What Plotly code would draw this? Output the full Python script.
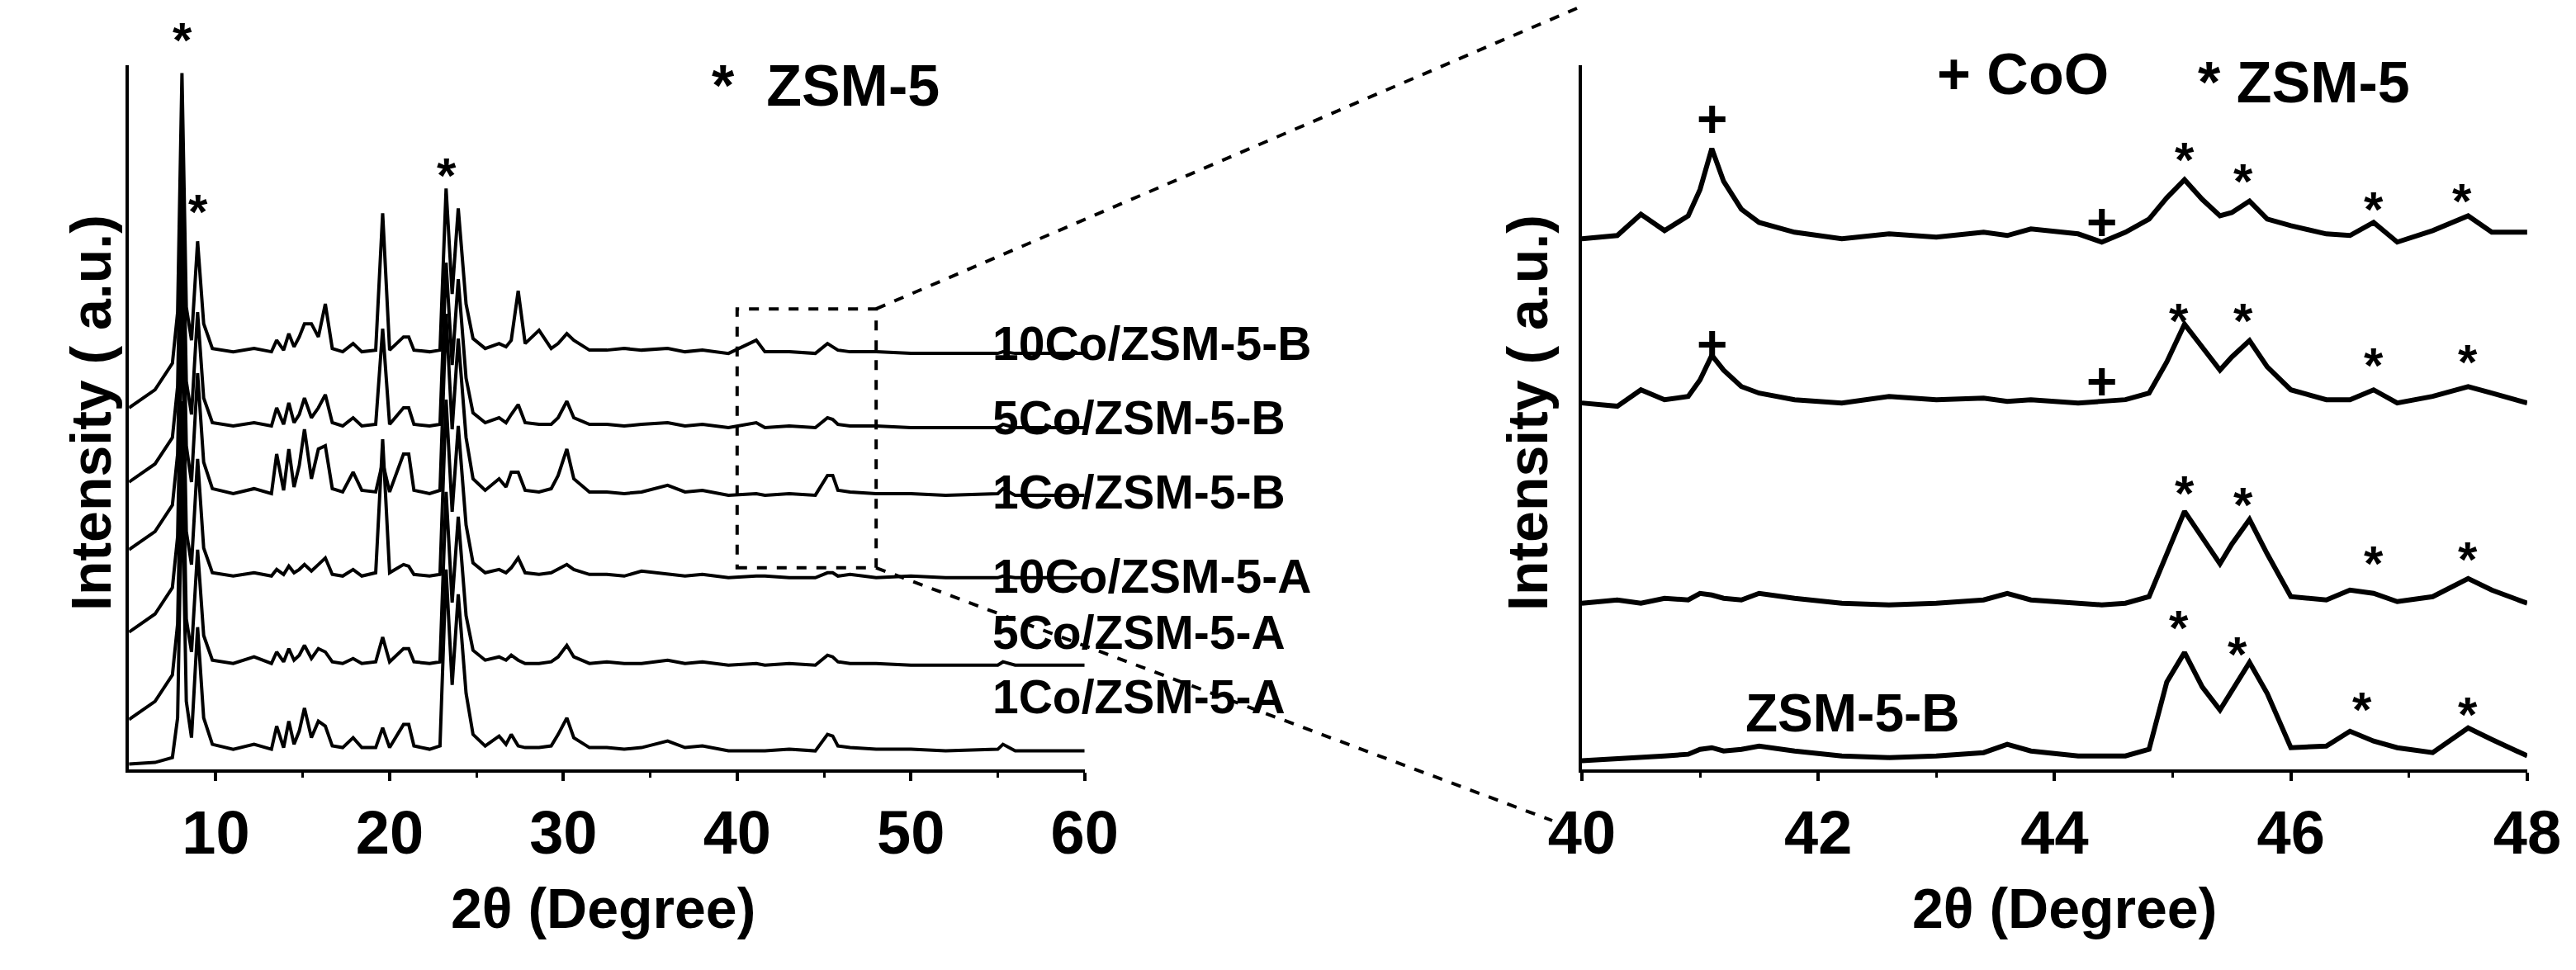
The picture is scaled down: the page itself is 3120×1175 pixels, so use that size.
import plotly.graph_objects as go

# ---------------- data: full-range patterns (relative intensity above each baseline) -------------
x_full = [5.0, 6.5, 7.5, 7.8, 8.05, 8.3, 8.6, 8.95, 9.3, 9.8, 11.0, 12.2, 13.2, 13.5, 13.9, 14.2, 14.5,
          14.8, 15.1, 15.5, 15.9, 16.3, 16.7, 17.3, 17.9, 18.4, 19.2, 19.6, 20.0, 20.8, 21.1, 21.4, 22.3,
          22.9, 23.25, 23.6, 23.95, 24.4, 24.8, 25.5, 26.3, 26.7, 27.0, 27.4, 27.8, 28.6, 29.3, 29.7,
          30.2, 30.6, 31.5, 32.5, 33.5, 34.5, 36.0, 37.0, 38.0, 39.5, 41.1, 41.6, 43.0, 44.5, 45.2,
          45.5, 45.8, 46.5, 48.0, 50.0, 52.0, 55.0, 55.3, 56.0, 58.0, 60.0]

full_names = ["1Co/ZSM-5-A", "5Co/ZSM-5-A", "10Co/ZSM-5-A", "1Co/ZSM-5-B", "5Co/ZSM-5-B", "10Co/ZSM-5-B"]
full_offsets = [11, 63, 116, 166, 207, 252]

y_1CoA = [-8, -7, -4, 20, 170, 30, 8, 75, 20, 4, 1, 4, 1, 15, 2, 18, 4, 12, 26, 8, 18, 15, 3, 2, 8, 2, 2,
          14, 2, 16, 16, 3, 1, 3, 110, 40, 95, 35, 10, 3, 9, 4, 10, 3, 2, 2, 3, 10, 20, 8, 2, 2, 1, 2, 6,
          2, 3, 0, 0, 0, 1, 0, 10, 9, 3, 2, 1, 1, 0, 1, 4, 0, 0, 0]
y_5CoA = [-33, -22, -6, 25, 160, 28, 8, 70, 18, 3, 1, 5, 1, 8, 2, 10, 3, 6, 12, 4, 10, 8, 2, 1, 4, 1, 2,
          17, 2, 10, 10, 2, 1, 2, 105, 38, 90, 30, 9, 3, 5, 3, 6, 3, 1, 1, 2, 5, 12, 5, 1, 2, 1, 1, 3,
          1, 2, 0, 1, 0, 1, 0, 6, 5, 2, 1, 1, 0, 0, 0, 2, 0, 0, 0]
y_10CoA = [-33, -22, -6, 25, 165, 28, 8, 72, 18, 3, 1, 3, 1, 5, 2, 7, 3, 5, 8, 4, 8, 12, 2, 1, 5, 1, 3,
           84, 3, 8, 7, 2, 1, 2, 108, 40, 92, 32, 9, 3, 5, 3, 6, 12, 3, 2, 3, 5, 8, 5, 2, 2, 1, 4, 2,
           1, 2, 0, 1, 1, 0, 0, 3, 3, 1, 2, 0, 1, 0, 0, 1, 0, 0, 0]
y_1CoB = [-33, -22, -6, 25, 165, 30, 8, 74, 20, 4, 1, 4, 1, 25, 3, 28, 5, 18, 40, 10, 28, 30, 4, 2, 14,
          3, 2, 20, 2, 25, 25, 3, 1, 3, 110, 40, 95, 35, 10, 3, 10, 5, 14, 14, 3, 2, 4, 12, 28, 10, 2, 2,
          1, 2, 6, 2, 3, 0, 1, 0, 1, 0, 12, 12, 3, 2, 1, 1, 0, 1, 4, 0, 0, 0]
y_5CoB = [-33, -22, -6, 25, 168, 28, 8, 70, 18, 3, 1, 3, 1, 12, 2, 15, 3, 8, 18, 6, 12, 20, 3, 1, 6, 1, 2,
          60, 2, 12, 12, 2, 1, 2, 100, 38, 90, 30, 9, 3, 6, 3, 8, 14, 3, 2, 2, 6, 16, 6, 2, 2, 1, 2, 3,
          1, 2, 0, 3, 0, 1, 0, 6, 5, 2, 1, 1, 0, 0, 0, 2, 0, 0, 0]
y_10CoB = [-33, -22, -6, 25, 170, 28, 8, 68, 18, 3, 1, 3, 1, 8, 2, 12, 4, 10, 18, 18, 10, 30, 3, 1, 6, 1,
           2, 85, 2, 10, 10, 2, 1, 2, 100, 36, 88, 30, 9, 3, 6, 4, 8, 38, 6, 14, 3, 6, 12, 8, 2, 2, 3, 2,
           3, 1, 2, 0, 8, 1, 1, 0, 6, 4, 2, 1, 1, 0, 0, 0, 1, 0, 0, 0]
full_series = [y_1CoA, y_5CoA, y_10CoA, y_1CoB, y_5CoB, y_10CoB]

# ---------------- data: zoomed 40-48 patterns ----------------
x_zoom = [40.0, 40.3, 40.5, 40.7, 40.9, 41.0, 41.1, 41.2, 41.35, 41.5, 41.8, 42.2, 42.6, 43.0, 43.4, 43.6,
          43.8, 44.2, 44.4, 44.6, 44.8, 44.95, 45.1, 45.25, 45.4, 45.5, 45.65, 45.8, 46.0, 46.3, 46.5,
          46.7, 46.9, 47.2, 47.5, 47.7, 48.0]
zoom_offsets = [8, 101, 223, 323]
z_ZSM5B = [-3, -2, -1, 0, 1, 4, 5, 3, 4, 6, 3, 0, -1, 0, 2, 7, 3, 0, 0, 0, 4, 45, 63, 42, 28, 40, 57, 38,
           5, 6, 15, 9, 5, 2, 17, 10, 0]
z_1CoB = [0, 2, 0, 3, 2, 6, 5, 3, 2, 6, 3, 0, -1, 0, 2, 6, 2, 0, -1, 0, 4, 30, 56, 40, 24, 36, 51, 30, 4,
          2, 8, 6, 1, 4, 15, 8, 0]
z_5CoB = [0, -2, 8, 2, 4, 14, 29, 20, 10, 6, 2, 0, 4, 2, 3, 1, 2, 0, 1, 2, 6, 25, 48, 34, 20, 28, 38, 22,
          8, 2, 2, 8, 0, 4, 10, 6, 0]
z_10CoB = [0, 2, 15, 5, 14, 30, 55, 35, 18, 10, 4, 0, 3, 1, 4, 2, 6, 3, -2, 4, 12, 25, 36, 24, 14, 16, 23,
           12, 8, 3, 2, 10, -2, 5, 14, 4, 4]
zoom_series = [z_ZSM5B, z_1CoB, z_5CoB, z_10CoB]

# markers: (x, y, symbol, extra pixel shift)
left_marks = [(8.1, 425, "*", 34), (9.0, 338, "*", 0), (23.3, 360, "*", 0)]
right_marks = [(41.1, 396, "+"), (44.4, 333, "+"), (41.1, 259, "+"), (44.4, 236, "+"),
               (45.1, 371, "*"), (45.6, 358, "*"), (46.7, 341, "*"), (47.45, 346, "*"),
               (45.05, 273, "*"), (45.6, 273, "*"), (46.7, 246, "*"), (47.5, 248, "*"),
               (45.1, 168, "*"), (45.6, 161, "*"), (46.7, 125, "*"), (47.5, 128, "*"),
               (45.05, 86, "*"), (45.55, 70, "*"), (46.6, 36, "*"), (47.5, 33, "*")]

FONT = "Liberation Sans"
BOLD = dict(family=FONT, color="black", weight="bold")
fig = go.Figure()
for name, ys, off in zip(full_names, full_series, full_offsets):
    fig.add_trace(go.Scatter(x=x_full, y=[v + off for v in ys], mode="lines", name=name,
                             line=dict(color="black", width=4), xaxis="x", yaxis="y", showlegend=False))
for ys, off in zip(zoom_series, zoom_offsets):
    fig.add_trace(go.Scatter(x=x_zoom, y=[v + off for v in ys], mode="lines",
                             line=dict(color="black", width=6), xaxis="x2", yaxis="y2", showlegend=False))

ann = []
for x, y, s, ys in left_marks:
    ann.append(dict(x=x, y=y, xref="x", yref="y", text=s, showarrow=False, yshift=ys,
                    font=dict(size=60, **BOLD)))
for x, y, s in right_marks:
    ann.append(dict(x=x, y=y, xref="x2", yref="y2", text=s, showarrow=False,
                    font=dict(size=60 if s == "*" else 64, **BOLD)))

SH = 4  # page offset correction (display px)

def pt(dx, dy):
    return (dx - SH)/1560, 1 - (dy - SH)/587.5

label_y = [439, 400, 349, 298, 253, 208]
for name, dy in zip(full_names, label_y):
    px, py = pt(600, dy)
    ann.append(dict(x=px, y=py, xref="paper", yref="paper", xanchor="left",
                    text=name, showarrow=False, font=dict(size=57, **BOLD)))

for text, dx, dy, size in [("*  ZSM-5", 500, 52, 70), ("+ CoO", 1225, 45, 70),
                           ("* ZSM-5", 1395, 50, 70), ("ZSM-5-B", 1122, 432, 64),
                           ("2θ (Degree)", 365, 550, 68), ("2θ (Degree)", 1250, 550, 68)]:
    px, py = pt(dx, dy)
    ann.append(dict(x=px, y=py, xref="paper", yref="paper", text=text, showarrow=False,
                    xanchor="center", yanchor="middle", font=dict(size=size, **BOLD)))
for dx in (35, 925):
    px, py = pt(dx, 250)
    ann.append(dict(x=px, y=py, xref="paper", yref="paper", text="Intensity ( a.u.)", textangle=-90,
                    showarrow=False, font=dict(size=68, **BOLD)))

lx_dom = (0.0475, 0.4185)
rx_dom = (0.6115, 0.9785)
yd = (0.214, 0.94)

# dashed zoom box and connectors
box = dict(type="rect", xref="x", yref="y", x0=40, x1=48, y0=122, y1=279,
           line=dict(color="black", width=4, dash="dash"))
bx = lx_dom[0] + (48 - 5) / 55 * (lx_dom[1] - lx_dom[0])
by_top = yd[0] + (yd[1] - yd[0]) * 279 / 427
by_bot = yd[0] + (yd[1] - yd[0]) * 122 / 427
p1 = pt(955, 5)
p2 = pt(940, 497)
shapes = [box,
          dict(type="line", xref="paper", yref="paper", x0=bx, y0=by_top, x1=p1[0], y1=p1[1],
               line=dict(color="black", width=4, dash="dash")),
          dict(type="line", xref="paper", yref="paper", x0=bx, y0=by_bot, x1=p2[0], y1=p2[1],
               line=dict(color="black", width=4, dash="dash"))]

axis_common = dict(showgrid=False, zeroline=False, showline=True, linecolor="black", linewidth=4,
                   ticks="outside", ticklen=10, tickwidth=4, tickcolor="black", automargin=False,
                   tickfont=dict(size=74, **BOLD))
fig.update_layout(
    width=3120, height=1175, paper_bgcolor="white", plot_bgcolor="white",
    margin=dict(l=0, r=0, t=0, b=0, autoexpand=False),
    font=dict(family=FONT, color="black", size=60),
    xaxis=dict(domain=list(lx_dom), range=[5, 60], tickvals=[10, 20, 30, 40, 50, 60],
               minor=dict(tickvals=[15, 25, 35, 45, 55], ticklen=6, tickwidth=3, ticks="outside"),
               anchor="y", **axis_common),
    yaxis=dict(domain=list(yd), range=[0, 427], showticklabels=False, ticks="", showgrid=False,
               zeroline=False, showline=True, linecolor="black", linewidth=4, anchor="x", automargin=False),
    xaxis2=dict(domain=list(rx_dom), range=[40, 48], tickvals=[40, 42, 44, 46, 48],
                minor=dict(tickvals=[41, 43, 45, 47], ticklen=6, tickwidth=3, ticks="outside"),
                anchor="y2", **axis_common),
    yaxis2=dict(domain=list(yd), range=[0, 429], showticklabels=False, ticks="", showgrid=False,
                zeroline=False, showline=True, linecolor="black", linewidth=4, anchor="x2", automargin=False),
    annotations=ann, shapes=shapes,
)
fig.write_html("out.html")
